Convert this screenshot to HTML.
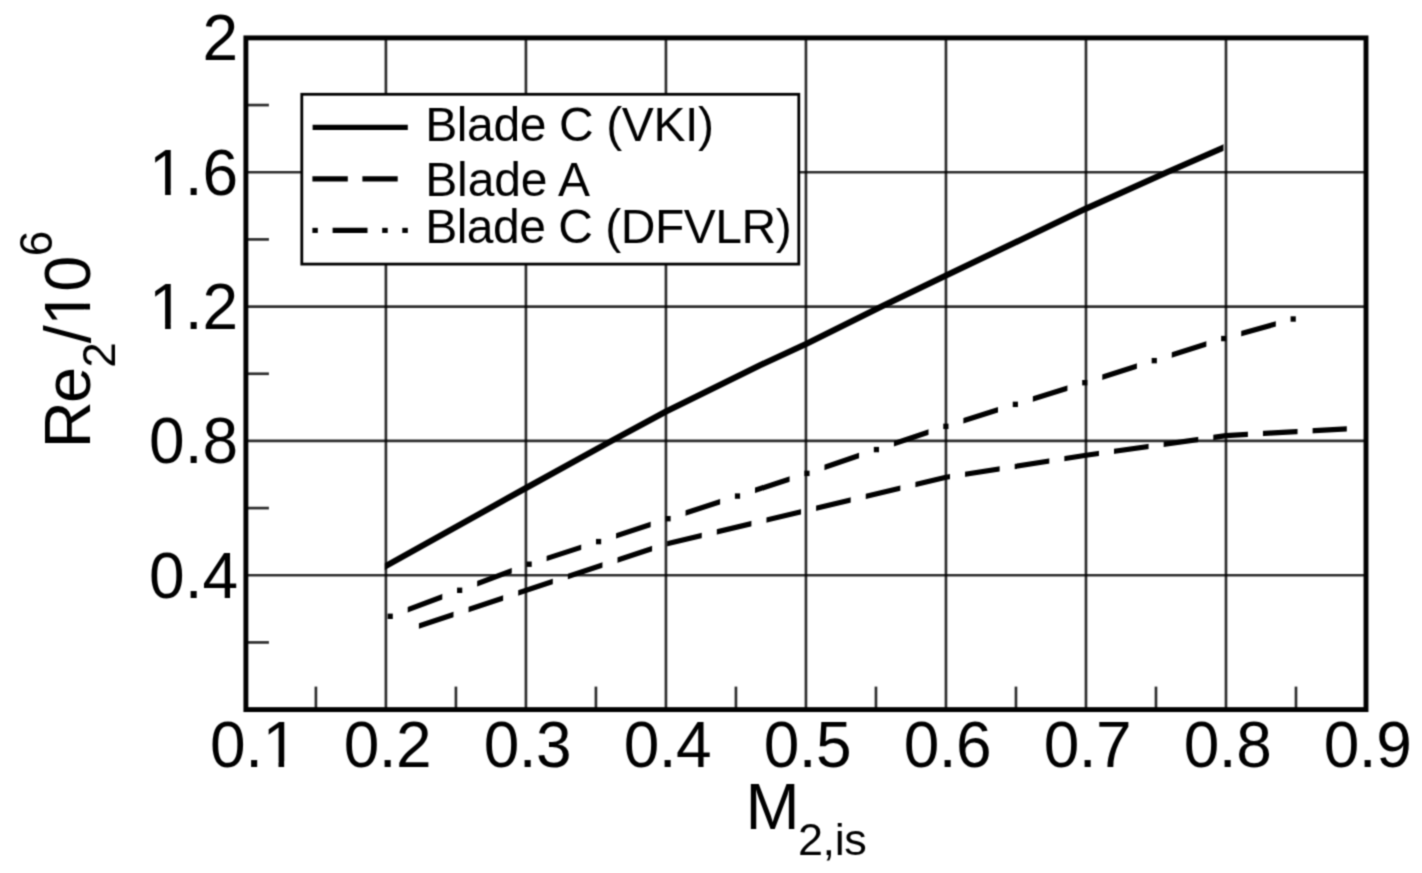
<!DOCTYPE html>
<html lang="en"><head><meta charset="utf-8"><title>Re2 vs M2,is</title>
<style>html,body{margin:0;padding:0;background:#fff}body{width:1422px;height:873px;overflow:hidden}svg{display:block}text{font-family:"Liberation Sans",sans-serif;fill:#000}</style>
</head><body>
<svg width="1422" height="873" viewBox="0 0 1422 873">
<filter id="soft" filterUnits="userSpaceOnUse" x="0" y="0" width="1422" height="873" color-interpolation-filters="sRGB"><feConvolveMatrix order="3" kernelMatrix="0.0400 0.1200 0.0400 0.1200 0.3600 0.1200 0.0400 0.1200 0.0400" divisor="1" edgeMode="duplicate" preserveAlpha="false"/></filter>
<g filter="url(#soft)">
<rect width="1422" height="873" fill="#fff"/>
<g stroke="#000" stroke-opacity="0.82" stroke-width="2.7" fill="none">
<line x1="385.91" y1="37.9" x2="385.91" y2="709.6"/>
<line x1="525.93" y1="37.9" x2="525.93" y2="709.6"/>
<line x1="665.94" y1="37.9" x2="665.94" y2="709.6"/>
<line x1="805.95" y1="37.9" x2="805.95" y2="709.6"/>
<line x1="945.96" y1="37.9" x2="945.96" y2="709.6"/>
<line x1="1085.98" y1="37.9" x2="1085.98" y2="709.6"/>
<line x1="1225.99" y1="37.9" x2="1225.99" y2="709.6"/>
<line x1="245.9" y1="575.26" x2="1366.0" y2="575.26"/>
<line x1="245.9" y1="440.92" x2="1366.0" y2="440.92"/>
<line x1="245.9" y1="306.58" x2="1366.0" y2="306.58"/>
<line x1="245.9" y1="172.24" x2="1366.0" y2="172.24"/>
<line x1="315.91" y1="709.6" x2="315.91" y2="686.60"/>
<line x1="455.92" y1="709.6" x2="455.92" y2="686.60"/>
<line x1="595.93" y1="709.6" x2="595.93" y2="686.60"/>
<line x1="735.94" y1="709.6" x2="735.94" y2="686.60"/>
<line x1="875.96" y1="709.6" x2="875.96" y2="686.60"/>
<line x1="1015.97" y1="709.6" x2="1015.97" y2="686.60"/>
<line x1="1155.98" y1="709.6" x2="1155.98" y2="686.60"/>
<line x1="1295.99" y1="709.6" x2="1295.99" y2="686.60"/>
<line x1="245.9" y1="642.43" x2="268.90" y2="642.43"/>
<line x1="245.9" y1="508.09" x2="268.90" y2="508.09"/>
<line x1="245.9" y1="373.75" x2="268.90" y2="373.75"/>
<line x1="245.9" y1="239.41" x2="268.90" y2="239.41"/>
<line x1="245.9" y1="105.07" x2="268.90" y2="105.07"/>
</g>
<defs>
<clipPath id="cv"><rect x="384.80" y="0" width="838.70" height="873"/></clipPath>
<clipPath id="ca"><rect x="418.90" y="0" width="34.60" height="873"/><rect x="468.55" y="0" width="34.60" height="873"/><rect x="518.20" y="0" width="34.60" height="873"/><rect x="567.85" y="0" width="34.60" height="873"/><rect x="617.50" y="0" width="34.60" height="873"/><rect x="667.15" y="0" width="34.60" height="873"/><rect x="716.80" y="0" width="34.60" height="873"/><rect x="766.45" y="0" width="34.60" height="873"/><rect x="816.10" y="0" width="34.60" height="873"/><rect x="865.75" y="0" width="34.60" height="873"/><rect x="915.40" y="0" width="34.60" height="873"/><rect x="965.05" y="0" width="34.60" height="873"/><rect x="1014.70" y="0" width="34.60" height="873"/><rect x="1064.35" y="0" width="34.60" height="873"/><rect x="1114.00" y="0" width="34.60" height="873"/><rect x="1163.65" y="0" width="34.60" height="873"/><rect x="1213.30" y="0" width="34.60" height="873"/><rect x="1262.95" y="0" width="34.60" height="873"/><rect x="1312.60" y="0" width="34.20" height="873"/></clipPath>
<clipPath id="cd"><rect x="407.70" y="0" width="34.60" height="873"/><rect x="477.16" y="0" width="34.60" height="873"/><rect x="546.62" y="0" width="34.60" height="873"/><rect x="616.08" y="0" width="34.60" height="873"/><rect x="685.54" y="0" width="34.60" height="873"/><rect x="755.00" y="0" width="34.60" height="873"/><rect x="824.46" y="0" width="34.60" height="873"/><rect x="893.92" y="0" width="34.60" height="873"/><rect x="963.38" y="0" width="34.60" height="873"/><rect x="1032.84" y="0" width="34.60" height="873"/><rect x="1102.30" y="0" width="34.60" height="873"/><rect x="1171.76" y="0" width="34.60" height="873"/><rect x="1241.22" y="0" width="34.60" height="873"/></clipPath>
</defs>
<g stroke="#000" fill="none" stroke-linejoin="round">
<polyline clip-path="url(#cv)" stroke-width="6.1" points="373.60,572.88 385.60,566.20 526.00,488.00 610.60,441.30 666.00,411.50 760.00,365.30 806.00,344.00 881.50,306.50 946.00,275.50 1086.00,208.60 1167.00,172.30 1222.60,148.00 1234.60,142.76"/>
<polyline clip-path="url(#ca)" stroke-width="5.2" points="406.90,629.98 418.90,626.00 666.00,544.00 946.00,477.30 1086.00,455.30 1226.00,435.60 1346.80,428.80 1358.80,428.12"/>
<polyline clip-path="url(#cd)" stroke-width="5.2" points="375.60,621.92 387.60,617.30 390.20,616.30 459.70,590.30 528.50,564.40 598.60,541.60 668.00,518.70 737.70,496.00 806.60,473.50 875.80,449.80 946.00,426.30 1015.50,404.30 1084.80,382.70 1154.40,360.60 1223.60,338.60 1293.20,319.00 1295.80,318.30 1307.80,315.07"/>
</g>
<g fill="#000"><rect x="387.60" y="613.60" width="5.20" height="5.4"/><rect x="457.06" y="587.61" width="5.20" height="5.4"/><rect x="526.52" y="561.50" width="5.20" height="5.4"/><rect x="595.98" y="538.91" width="5.20" height="5.4"/><rect x="665.44" y="515.99" width="5.20" height="5.4"/><rect x="734.90" y="493.37" width="5.20" height="5.4"/><rect x="804.36" y="470.68" width="5.20" height="5.4"/><rect x="873.82" y="446.89" width="5.20" height="5.4"/><rect x="943.28" y="423.64" width="5.20" height="5.4"/><rect x="1012.74" y="401.65" width="5.20" height="5.4"/><rect x="1082.20" y="380.00" width="5.20" height="5.4"/><rect x="1151.66" y="357.94" width="5.20" height="5.4"/><rect x="1221.12" y="335.87" width="5.20" height="5.4"/><rect x="1290.58" y="316.31" width="5.20" height="5.4"/></g>
<rect x="245.9" y="37.9" width="1120.10" height="671.70" fill="none" stroke="#000" stroke-width="4.9"/>
<g>
<rect x="301.8" y="94.3" width="497" height="169.8" fill="#fff" stroke="#000" stroke-width="2.8"/>
<g stroke="#000" stroke-width="5.1" fill="none">
<line x1="312.6" y1="127.4" x2="407.8" y2="127.4"/>
<line x1="312.4" y1="178.9" x2="347.8" y2="178.9"/><line x1="362.4" y1="178.9" x2="397.7" y2="178.9"/>
<line x1="312.4" y1="230.4" x2="317.8" y2="230.4"/><line x1="332.6" y1="230.4" x2="367.5" y2="230.4"/><line x1="382.2" y1="230.4" x2="387.7" y2="230.4"/><line x1="402.3" y1="230.4" x2="407.8" y2="230.4"/>
</g>
<text x="425.2" y="140.8" font-size="48" letter-spacing="-0.39">Blade C (VKI)</text>
<text x="425.2" y="196" font-size="48" letter-spacing="-0.1">Blade A</text>
<text x="425.2" y="243.2" font-size="48" letter-spacing="-0.5">Blade C (DFVLR)</text>
</g>
<g font-size="64" text-anchor="middle" letter-spacing="-0.5">
<text x="253.80" y="767">0.1</text>
<text x="387.41" y="767">0.2</text>
<text x="527.43" y="767">0.3</text>
<text x="667.44" y="767">0.4</text>
<text x="807.45" y="767">0.5</text>
<text x="947.46" y="767">0.6</text>
<text x="1087.48" y="767">0.7</text>
<text x="1227.49" y="767">0.8</text>
<text x="1367.50" y="767">0.9</text>
</g>
<g font-size="64" text-anchor="end">
<text x="238" y="60.40">2</text>
<text x="238" y="194.74">1.6</text>
<text x="238" y="329.08">1.2</text>
<text x="238" y="463.42">0.8</text>
<text x="238" y="597.76">0.4</text>
</g>
<text x="745.5" y="829.3" font-size="65">M<tspan font-size="45" dx="-1.7" dy="25.2" letter-spacing="-0.4">2,is</tspan></text>
<text transform="translate(89.8 448.3) rotate(-90)"><tspan x="0" y="0" font-size="65">R</tspan><tspan x="45.2" y="0" font-size="65">e</tspan><tspan x="80.5" y="25.3" font-size="46">2</tspan><tspan x="105.05" y="0" font-size="65">/</tspan><tspan x="122.6" y="0" font-size="65">1</tspan><tspan x="156.55" y="0" font-size="65">0</tspan><tspan x="192.15" y="-37.8" font-size="46">6</tspan></text>
<g fill="#fff">
<rect x="152.5" y="189.5" width="12.60" height="6.5"/><rect x="170.75" y="189.5" width="11.75" height="6.5"/>
<rect x="152.5" y="323.5" width="12.60" height="6.5"/><rect x="170.75" y="323.5" width="11.75" height="6.5"/>
<rect x="265.9" y="761.5" width="12.60" height="6.5"/><rect x="284.15" y="761.5" width="11.75" height="6.5"/>
<rect x="84.4" y="291.5" width="6.6" height="12.25"/><rect x="84.4" y="309.5" width="6.6" height="12.5"/>
</g>
</g></svg></body></html>
